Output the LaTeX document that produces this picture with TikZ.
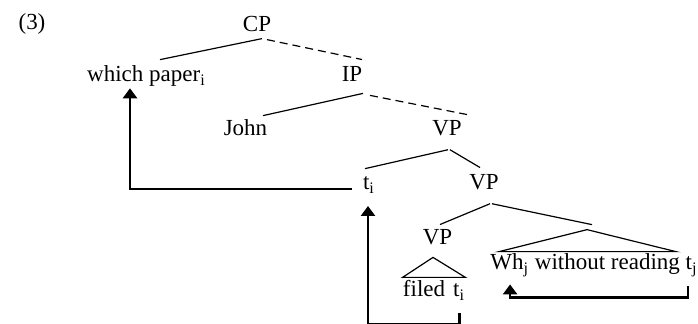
\documentclass[tikz,border=0pt]{standalone}
\usepackage{fontspec}
\setmainfont{Liberation Serif}
\usetikzlibrary{calc,arrows.meta}

\begin{document}
\begin{tikzpicture}[x=0.5pt, y=-0.5pt]
        \tikzstyle{cat}=[inner sep=0pt,anchor=base,font=\fontsize{11.5}{14}\selectfont]
        \tikzstyle{branch}=[line width=0.6pt]
        \tikzstyle{move}=[line width=1.3pt,-{Triangle[width=7pt,length=5pt]}]
        \useasboundingbox (0,0) rectangle (698,324);

        \node[cat] (ex) at (32,30) {(3)};
        \node[cat] (CP) at (257,32) {CP};
        \node[cat] (which) at (146.5,82) {which paper\textsubscript{i}};
        \node[cat] (IP) at (352,82) {IP};
        \node[cat] (John) at (245.5,136) {John};
        \node[cat] (VP_1) at (447,136) {VP};
        \node[cat] (t_i) at (369,190) {t\textsubscript{i}};
        \node[cat] (VP_2) at (484,190) {VP};
        \node[cat] (VP_3) at (437.5,245) {VP};
        \node[cat] (filed) at (434,297) {filed\hspace{.35em}t\textsubscript{i}};
        \node[cat] (Wh) at (594,270) {Wh\textsubscript{j} without reading t\textsubscript{j}};

        % tree branches
        \draw[branch] ($(CP.south)+(5,6)$) -- ($(which.north)+(13.5,-6)$);
        \draw[branch,dash pattern=on 4pt off 2.5pt] ($(CP.south)+(10,7)$) -- ($(IP.north)+(10,-7)$);
        \draw[branch] ($(IP.south)+(11,11)$) -- ($(John.north)+(17.5,-4)$);
        \draw[branch,dash pattern=on 4pt off 2.5pt] ($(IP.south)+(18,13)$) -- ($(VP_1.north)+(20,-6)$);
        \draw[branch] ($(VP_1.south)+(1,13)$) -- ($(t_i.north)+(-4,-8)$);
        \draw[branch] ($(VP_1.south)+(3,13)$) -- ($(VP_2.north)+(-4,-7)$);
        \draw[branch] ($(VP_2.south)+(6,13)$) -- ($(VP_3.north)+(2.5,-5)$);
        \draw[branch] ($(VP_2.south)+(8,13)$) -- ($(Wh.north)+(-2,-29)$);

        % triangles
        \draw[branch] ($(filed.north west)+(0,-3)$) -- ($(filed.north)+(-1,-23)$) -- ($(filed.north east)+(0,-3)$) -- cycle;
        \draw[branch] ($(Wh.north west)+(9,-2)$) -- ($(Wh.north)+(-7,-24)$) -- ($(Wh.north east)+(-22,-2)$) -- cycle;

        % movement arrows
        \draw[move] ($(t_i.base west)+(-11,-1)$) -| ($(which.south)+(-16.5,1)$);
        \draw[move] ($(filed.south east)+(-6,12)$) -- ++(0,11) -| ($(t_i.south)+(-1,12)$);
        \draw[move] ($(Wh.south east)+(-10,9)$) -- ++(0,11) -| ($(Wh.south west)+(20,7)$);
    \end{tikzpicture}
\end{document}
